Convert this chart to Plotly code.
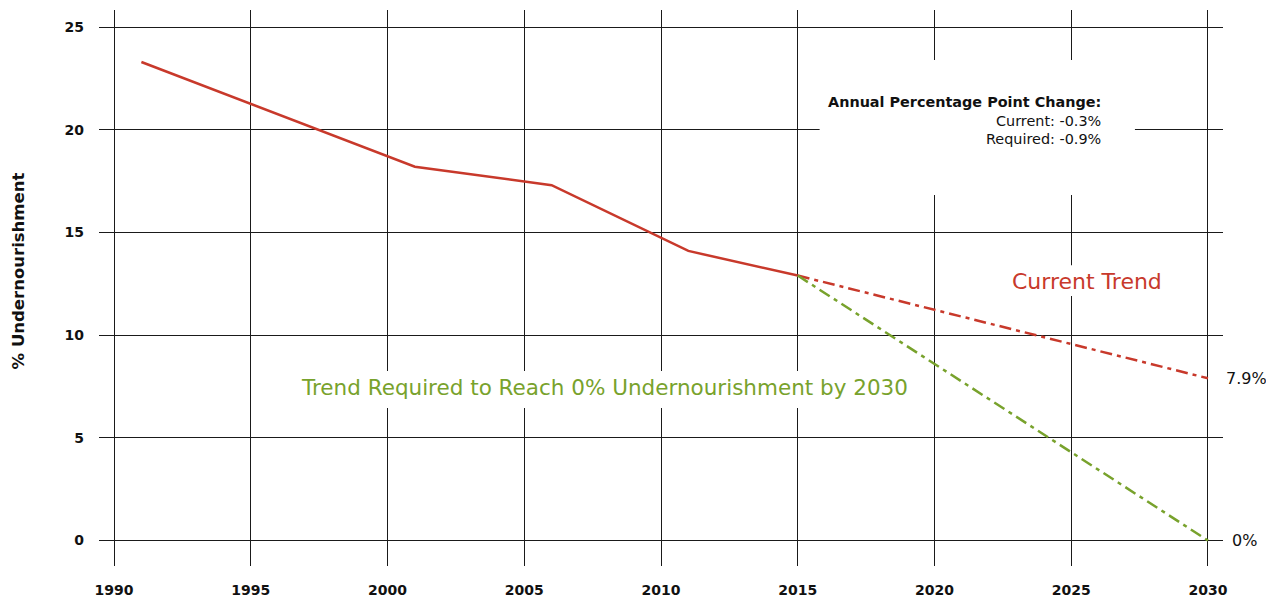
import plotly.graph_objects as go

# ---- data ----
years_hist = [1991, 2001, 2006, 2011, 2015]
undernourish_hist = [23.3, 18.2, 17.3, 14.1, 12.9]

years_proj = [2015, 2030]
current_trend = [12.9, 7.9]
required_trend = [12.9, 0.0]

x_ticks = [1990, 1995, 2000, 2005, 2010, 2015, 2020, 2025, 2030]
y_ticks = [0, 5, 10, 15, 20, 25]

RED = "#c8392b"
GREEN = "#78a22c"
FONT = "DejaVu Sans"

fig = go.Figure()

fig.add_trace(go.Scatter(x=years_hist, y=undernourish_hist, mode="lines",
                         line=dict(color=RED, width=2.5), hoverinfo="skip"))
fig.add_trace(go.Scatter(x=years_proj, y=current_trend, mode="lines",
                         line=dict(color=RED, width=2.5, dash="12px,5px,4px,5px"), hoverinfo="skip"))
fig.add_trace(go.Scatter(x=years_proj, y=required_trend, mode="lines",
                         line=dict(color=GREEN, width=2.5, dash="12px,5px,4px,5px"), hoverinfo="skip"))

# white boxes behind labels (hide gridlines)
boxes = [
    (2015.8, 2027.33, 16.82, 23.39),
    (1996.43, 2019.65, 6.45, 8.25),
    (2024.1, 2029.3, 11.9, 13.4),
]
for x0, x1, y0, y1 in boxes:
    fig.add_shape(type="rect", x0=x0, x1=x1, y0=y0, y1=y1, xref="x", yref="y",
                  fillcolor="white", line=dict(width=0), layer="between")

fig.add_annotation(x=2026.16, y=20.47, xref="x", yref="y", xanchor="right", yanchor="middle",
                   align="right", showarrow=False,
                   text="<b>Annual Percentage Point Change:</b><br>Current: -0.3%<br>Required: -0.9%",
                   font=dict(family=FONT, size=14.4, color="#111111"))
fig.add_annotation(x=2025.58, y=12.59, xref="x", yref="y", showarrow=False,
                   text="Current Trend", font=dict(family=FONT, size=22, color=RED))
fig.add_annotation(x=2007.95, y=7.47, xref="x", yref="y", showarrow=False,
                   text="Trend Required to Reach 0% Undernourishment by 2030",
                   font=dict(family=FONT, size=21.5, color=GREEN))
fig.add_annotation(x=years_proj[-1], y=current_trend[-1], xref="x", yref="y", showarrow=False,
                   xanchor="left", xshift=16, text=f"{current_trend[-1]}%",
                   font=dict(family=FONT, size=16, color="#111111"))
fig.add_annotation(x=years_proj[-1], y=required_trend[-1], xref="x", yref="y", showarrow=False,
                   xanchor="left", xshift=22, text=f"{required_trend[-1]:.0f}%",
                   font=dict(family=FONT, size=16, color="#111111"))
fig.add_annotation(x=-0.072, y=0.53, xref="paper", yref="paper", showarrow=False,
                   xanchor="center", yanchor="middle",
                   textangle=-90, text="<b>% Undernourishment</b>",
                   font=dict(family=FONT, size=16.5, color="#111111"))

fig.update_xaxes(range=[1989.45, 2030.55], tickvals=x_ticks, ticktext=[str(v) for v in x_ticks],
                 showgrid=True, gridcolor="#1a1a1a", gridwidth=1, zeroline=False,
                 showline=False, ticks="", ticklabelstandoff=14, automargin=False,
                 tickfont=dict(family=FONT, size=14, color="#111111", weight="bold"))
fig.update_yaxes(range=[-1.24, 25.83], tickvals=y_ticks, ticktext=[str(v) for v in y_ticks],
                 showgrid=True, gridcolor="#1a1a1a", gridwidth=1, zeroline=False,
                 showline=False, ticks="", ticklabelstandoff=14, automargin=False,
                 tickfont=dict(family=FONT, size=14, color="#111111", weight="bold"))

fig.update_layout(width=1266, height=596, margin=dict(l=91, r=51, t=2, b=38),
                  plot_bgcolor="white", paper_bgcolor="white", showlegend=False,
                  font=dict(family=FONT))

fig.write_html("out.html")
